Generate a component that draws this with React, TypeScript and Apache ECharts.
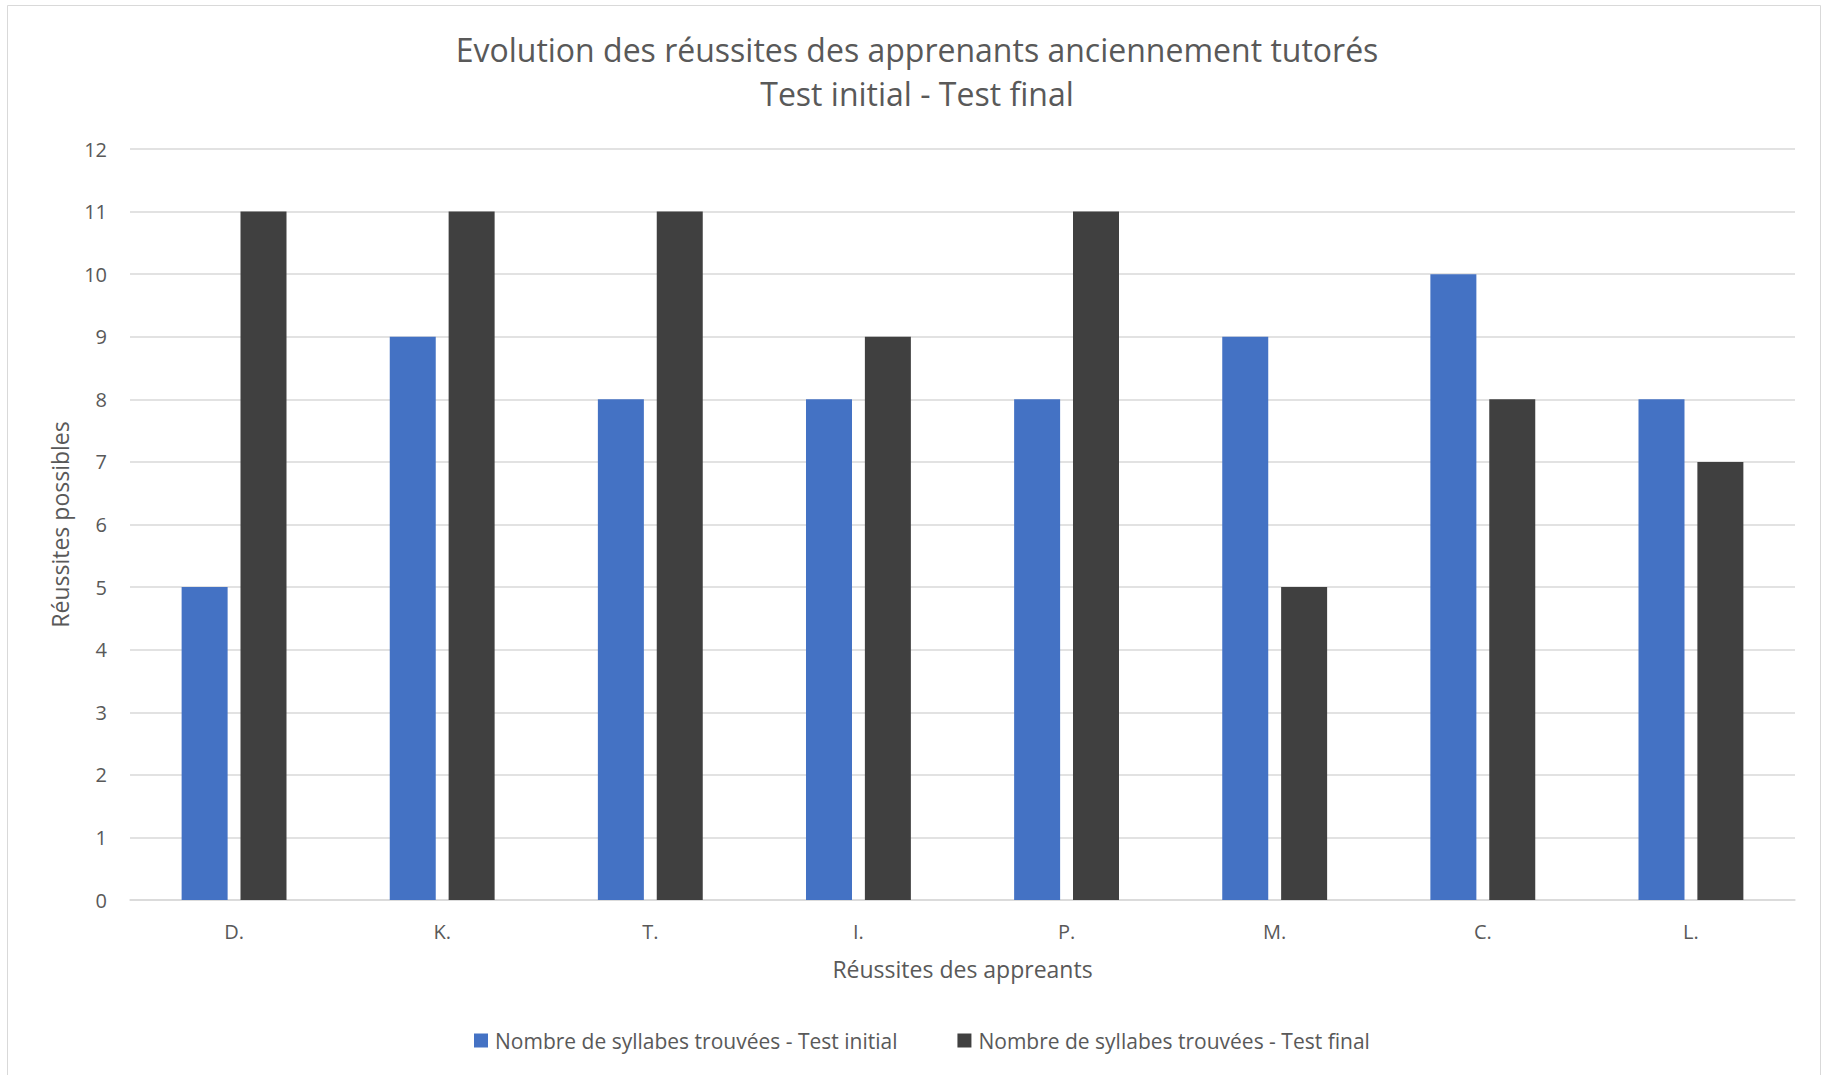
import React, { useEffect, useRef } from "react";
import * as echarts from "echarts";

const categories = ["D.", "K.", "T.", "I.", "P.", "M.", "C.", "L."];
const initialScores = [5, 9, 8, 8, 8, 9, 10, 8];
const finalScores = [11, 11, 11, 9, 11, 5, 8, 7];
const seriesNames = [
  "Nombre de syllabes trouvées - Test initial",
  "Nombre de syllabes trouvées - Test final",
];
const titleLines = [
  "Evolution des réussites des apprenants anciennement tutorés",
  "Test initial - Test final",
];
const xAxisName = "Réussites des appreants";
const yAxisName = "Réussites possibles";

const FONT = "'Open Sans', sans-serif";
const TEXT = "#595959";
const GRID = "#d9d9d9";

export default function App() {
  const ref = useRef<HTMLDivElement>(null);
  useEffect(() => {
    if (!ref.current) return;
    const chart = echarts.init(ref.current, undefined, { renderer: "svg" });
    chart.setOption({
      animation: false,
      backgroundColor: "#ffffff",
      textStyle: { fontFamily: FONT, color: TEXT },
      title: {
        text: titleLines.join("\n"),
        left: 912,
        top: 22,
        textAlign: "center",
        textStyle: {
          fontFamily: FONT,
          fontSize: 32,
          fontWeight: "normal",
          color: TEXT,
          lineHeight: 44,
        },
      },
      graphic: [
        {
          type: "rect",
          shape: { x: 7.5, y: 5.5, width: 1813, height: 1090 },
          style: { fill: "none", stroke: GRID, lineWidth: 1 },
          silent: true,
          z: -1,
        },
      ],
      legend: {
        left: 469,
        top: 1025,
        itemWidth: 14,
        itemHeight: 14,
        itemGap: 60,
        icon: "rect",
        textStyle: { fontFamily: FONT, fontSize: 21, color: TEXT, padding: [0, 0, 0, 2] },
        data: seriesNames,
      },
      grid: { left: 130, right: 29, top: 149, bottom: 175, containLabel: false },
      xAxis: {
        type: "category",
        data: categories,
        name: xAxisName,
        nameLocation: "middle",
        nameGap: 57,
        nameTextStyle: { fontFamily: FONT, fontSize: 23, color: TEXT, lineHeight: 23 },
        axisLine: { lineStyle: { color: GRID, width: 1.5 } },
        axisTick: { show: false },
        axisLabel: { fontFamily: FONT, fontSize: 20, color: TEXT, margin: 21, lineHeight: 20 },
      },
      yAxis: {
        type: "value",
        min: 0,
        max: 12,
        interval: 1,
        name: yAxisName,
        nameLocation: "middle",
        nameGap: 59,
        nameTextStyle: { fontFamily: FONT, fontSize: 23, color: TEXT, lineHeight: 23 },
        axisLine: { show: false },
        axisTick: { show: false },
        axisLabel: { fontFamily: FONT, fontSize: 20, color: TEXT, margin: 23 },
        splitLine: { lineStyle: { color: GRID, width: 1.5 } },
      },
      series: [
        {
          name: seriesNames[0],
          type: "bar",
          data: initialScores,
          barWidth: 46,
          barGap: "28%",
          itemStyle: { color: "#4472C4" },
        },
        {
          name: seriesNames[1],
          type: "bar",
          data: finalScores,
          barWidth: 46,
          barGap: "28%",
          itemStyle: { color: "#404040" },
        },
      ],
    });
    return () => chart.dispose();
  }, []);
  return (
    <div
      ref={ref}
      style={{ position: "absolute", left: 0, top: 0, width: 1824, height: 1075 }}
    />
  );
}
